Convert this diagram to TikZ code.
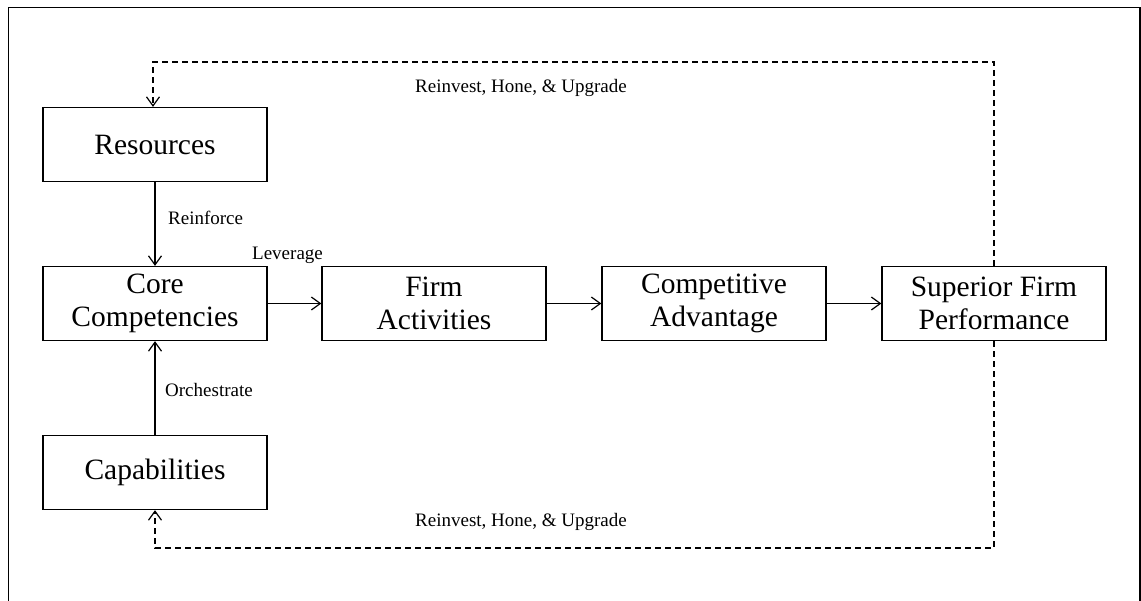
\documentclass[tikz,border=0pt]{standalone}
\usepackage{fontspec}
\setmainfont{Liberation Serif}
\usetikzlibrary{arrows.meta}
\tikzset{
  box/.style={draw, line width=1.3pt, fill=white, minimum width=224pt, minimum height=74pt,
    inner sep=0pt, align=center, font=\fontsize{29.5}{33}\selectfont},
  lbl/.style={anchor=west, inner sep=0pt, font=\fontsize{19}{22}\selectfont},
  solidarrow/.style={line width=1.2pt, -{Straight Barb[length=9pt,width=13pt,line width=1.2pt]}},
  dasharrow/.style={line width=1.2pt, dash pattern=on 6pt off 4pt, -{Straight Barb[length=9pt,width=13pt,line width=1.2pt]}}
}
\begin{document}
\begin{tikzpicture}[x=1pt,y=-1pt]
\useasboundingbox (0,0) rectangle (1141,600);
\begin{scope}
\clip (0,0) rectangle (1141,600);
\draw[line width=1.6pt] (8.5,620) -- (8.5,7.5) -- (1139.8,7.5) -- (1139.8,620);
\end{scope}
\node[box] (res) at (155,144.5) {Resources};
\node[box] (core) at (155,303.5) {Core\\Competencies};
\node[box] (cap) at (155,472.5) {Capabilities};
\node[box] (firm) at (434,303.5) {Firm\\Activities};
\node[box] (comp) at (714,303.5) {Competitive\\Advantage};
\node[box] (sup) at (994,303.5) {Superior Firm\\Performance};
\coordinate (top) at (0,62);
\coordinate (bot) at (0,548);
\draw[solidarrow] (res) -- (core);
\draw[solidarrow] (cap) -- (core);
\draw[solidarrow] (core) -- (firm);
\draw[solidarrow] (firm) -- (comp);
\draw[solidarrow] (comp) -- (sup);
\draw[dasharrow] (sup.north) -- (sup.north |- top) -| ([xshift=-2pt]res.north);
\draw[dasharrow] (sup.south) -- (sup.south |- bot) -| (cap.south);
\node[lbl] (reinf) at (168,218) {Reinforce};
\node[lbl] (lev) at (252,255) {Leverage};
\node[lbl] (orch) at (165,390) {Orchestrate};
\node[lbl] (rtop) at (415,88) {Reinvest, Hone, \& Upgrade};
\node[lbl] (rbot) at (415,522) {Reinvest, Hone, \& Upgrade};
\end{tikzpicture}
\end{document}
